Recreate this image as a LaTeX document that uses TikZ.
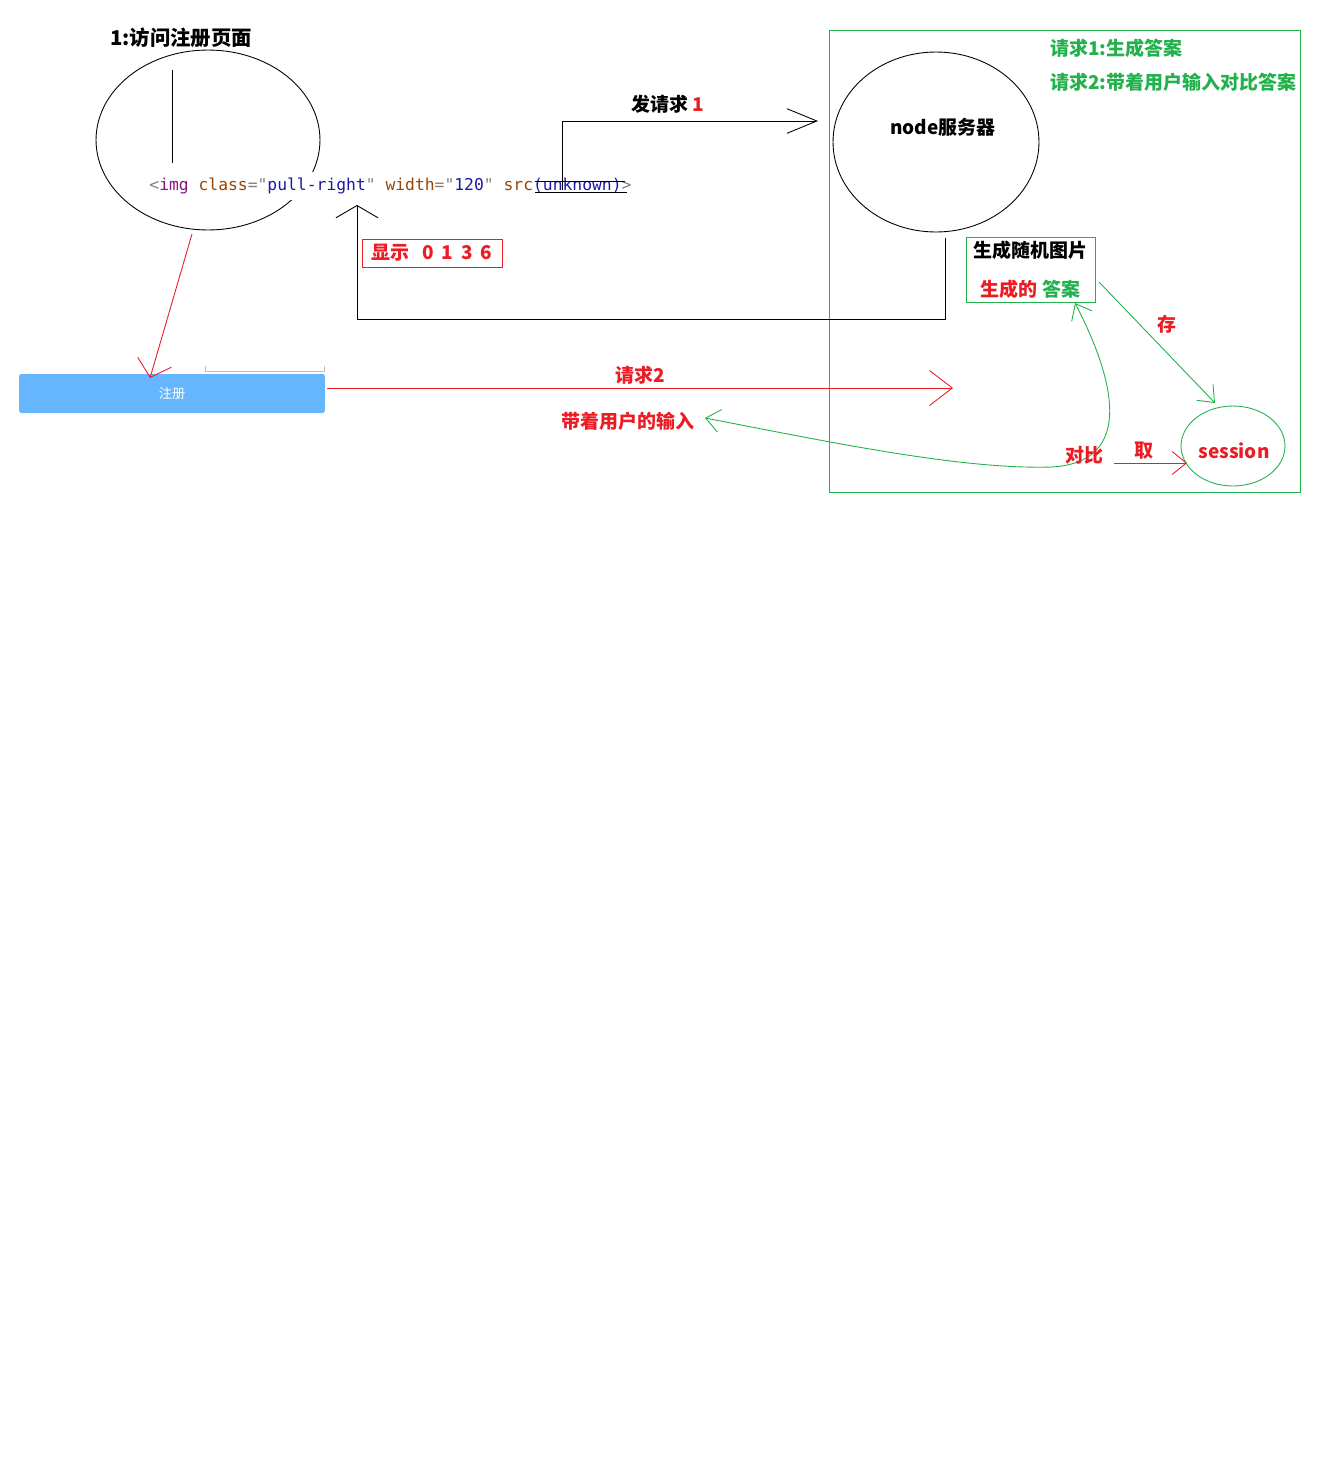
\documentclass[tikz,border=0pt]{standalone}
\usepackage{fontspec}
\setmainfont{Noto Sans CJK SC}
\newfontfamily\codefont{DejaVu Sans Mono}
\usetikzlibrary{arrows.meta,shapes.geometric}
\definecolor{hred}{HTML}{ED1C24}
\definecolor{hgreen}{HTML}{22B14C}
\definecolor{hblue}{HTML}{66B5FF}
\definecolor{cgray}{HTML}{808080}
\definecolor{cpurple}{HTML}{881280}
\definecolor{cbrown}{HTML}{994500}
\definecolor{cblue}{HTML}{1A1AA6}
\tikzset{
	bigV/.tip={Straight Barb[length=17pt,width=14pt]},
	flatV/.tip={Straight Barb[length=7pt,width=24pt]},
	redV/.tip={Straight Barb[length=9pt,width=20pt]},
	wideV/.tip={Straight Barb[length=13pt,width=20pt]},
	smallV/.tip={Straight Barb[length=8pt,width=13pt]},
}
\begin{document}
\begin{tikzpicture}[x=0.02cm,y=-0.02cm,line width=0.5pt,
	lbl/.style={font=\fontsize{10.8}{13}\selectfont\bfseries,inner sep=1pt},
	oval/.style={draw,ellipse,inner sep=0pt}]
	\useasboundingbox[fill=white] (0,0) rectangle (1332,1468);
	% left page
	\path
	(181,38) node[lbl,font=\fontsize{11.6}{14}\selectfont\bfseries] (visit) {1:访问注册页面}
	(208,140) node[oval,minimum width=4.48cm,minimum height=3.6cm] (page) {};
	\draw (172,70) -- (172,163);
	\node[anchor=west,fill=white,inner xsep=0pt,minimum height=0.56cm,font=\codefont\fontsize{9.3}{11}\selectfont] (tag) at (149,186)
	{\textcolor{cgray}{<}\textcolor{cpurple}{img} \textcolor{cbrown}{class}\textcolor{cgray}{="}\textcolor{cblue}{pull-right}\textcolor{cgray}{"} \textcolor{cbrown}{width}\textcolor{cgray}{="}\textcolor{cblue}{120}\textcolor{cgray}{"} \textcolor{cbrown}{src}\textcolor{cblue}{(unknown)}\textcolor{cgray}{>}};
	\draw (535,181) -- (625,181) (535,192) -- (627,192);
	\node[fill=hblue,rounded corners=1pt,minimum width=6.12cm,minimum height=0.78cm,text=white,font=\fontsize{7.5}{9}\selectfont] (reg) at (172,393.5) {注册};
	\draw[black!25] (205,366) -- (205,371) -- (324,371) -- (324,366);
	\node[lbl,draw=hred,text=hred,minimum width=2.8cm,minimum height=0.56cm] (show) at (432,253)
	{显示\hspace{7pt}0\hspace{4.5pt}1\hspace{4.5pt}3\hspace{4.5pt}6};
	% server side
	\node[draw=hgreen,minimum width=9.42cm,minimum height=9.24cm,inner sep=0pt] (frame) at (1064.5,261) {};
	\node[lbl,text=hgreen,anchor=west] (note1) at (1048,48) {请求1:生成答案};
	\node[lbl,text=hgreen,anchor=west] (note2) at (1048,82) {请求2:带着用户输入对比答案};
	\node[oval,minimum width=4.12cm,minimum height=3.6cm] (server) at (936,142) {};
	\node[lbl] (servertxt) at (943,127) {node服务器};
	\node[lbl,draw=hgreen,minimum width=2.58cm,minimum height=1.3cm,align=center] (gen) at (1030.5,269.5)
	{生成随机图片\\[9pt]\textcolor{hred}{生成的} \textcolor{hgreen}{答案}};
	\node[oval,draw=hgreen,minimum width=2.08cm,minimum height=1.6cm] (session) at (1233,446) {};
	\node[lbl,text=hred] (sessiontxt) at (1234,451) {session};
	% connectors
	\coordinate (askfrom) at (562,190);
	\coordinate (askto) at (818,121);
	\coordinate (backfrom) at (945,238);
	\coordinate (backto) at (357,205);
	\coordinate (regfrom) at (192,234);
	\coordinate (regto) at (150,378);
	\coordinate (q2from) at (327,388);
	\coordinate (q2to) at (953,388);
	\coordinate (savefrom) at (1099,282);
	\coordinate (saveto) at (1215,403);
	\coordinate (cmpleft) at (705,418);
	\coordinate (cmpup) at (1075,303);
	\coordinate (getfrom) at (1114,463);
	\coordinate (getto) at (1187,463);
	\draw[-bigV] (askfrom) |- (askto);
	\draw[-flatV] (backfrom) -- ++(0,81) -| (backto);
	\draw[hred,-redV] (regfrom) -- (regto);
	\draw[hred,-wideV] (q2from) -- (q2to);
	\draw[hgreen,-smallV] (savefrom) -- (saveto);
	\draw[hgreen,smallV-smallV] (cmpleft) .. controls (820,440) and (960,470) .. (1052,467)
		.. controls (1135,462) and (1115,380) .. (cmpup);
	\draw[hred,-smallV] (getfrom) -- (getto);
	% labels
	\node[lbl] (asklbl) at (668,104) {发请求 \textcolor{hred}{1}};
	\node[lbl,text=hred] (q2lbl) at (640,375) {请求2};
	\node[lbl,text=hred] (inputlbl) at (628,421) {带着用户的输入};
	\node[lbl,text=hred] (savelbl) at (1167,324) {存};
	\node[lbl,text=hred] (cmplbl) at (1084,455) {对比};
	\node[lbl,text=hred] (getlbl) at (1144,451) {取};
\end{tikzpicture}
\end{document}
